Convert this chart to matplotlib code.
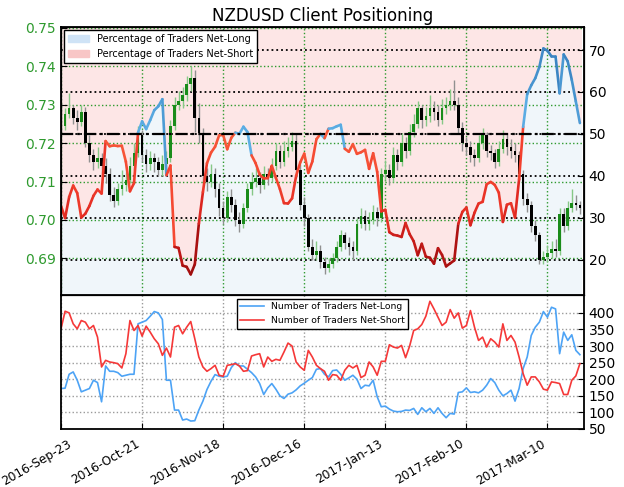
import numpy as np
import pandas as pd
import matplotlib
matplotlib.use("Agg")
import matplotlib.pyplot as plt
import matplotlib.transforms as mtransforms
from matplotlib.collections import LineCollection
from matplotlib.patches import Patch

# --- data ------------------------------------------------------------------
start_date = "2016-09-23"

n_long = [172, 173, 215, 222, 197, 162, 167, 172, 197, 190,
          132, 240, 224, 224, 220, 209, 212, 215, 215, 367,
          372, 377, 390, 404, 400, 380, 197, 197, 107, 107,
          77, 80, 74, 75, 107, 134, 169, 194, 214, 209,
          207, 209, 235, 250, 240, 240, 230, 220, 207, 187,
          154, 174, 187, 170, 150, 142, 155, 159, 168, 180,
          188, 197, 205, 230, 232, 215, 207, 226, 228, 215,
          197, 204, 212, 200, 172, 182, 180, 197, 147, 117,
          119, 110, 104, 102, 103, 107, 106, 112, 94, 114,
          102, 112, 97, 114, 97, 84, 97, 95, 160, 162,
          174, 160, 162, 159, 167, 182, 202, 190, 167, 150,
          157, 167, 134, 172, 232, 267, 332, 357, 372, 404,
          387, 417, 412, 277, 342, 317, 334, 287, 274]

n_short = [352, 405, 400, 367, 352, 377, 372, 352, 362, 327,
           237, 257, 252, 250, 247, 234, 277, 377, 347, 362,
           330, 360, 342, 322, 307, 272, 294, 267, 357, 362,
           337, 357, 374, 322, 267, 237, 224, 232, 242, 212,
           209, 242, 244, 247, 240, 224, 226, 270, 274, 277,
           237, 267, 254, 260, 257, 282, 309, 300, 252, 237,
           227, 287, 267, 242, 232, 224, 197, 214, 212, 197,
           227, 242, 234, 242, 205, 212, 252, 237, 212, 254,
           254, 304, 297, 294, 302, 265, 300, 347, 352, 365,
           390, 435, 412, 387, 362, 372, 410, 384, 400, 354,
           362, 407, 357, 317, 327, 297, 322, 312, 297, 367,
           317, 332, 312, 267, 217, 182, 207, 207, 192, 170,
           167, 192, 190, 187, 154, 154, 197, 210, 247]

first_open = 0.7290
closes = [0.7245, 0.7275, 0.7290, 0.7265, 0.7255, 0.7280, 0.7200, 0.7170, 0.7150, 0.7160,
          0.7140, 0.7120, 0.7065, 0.7050, 0.7080, 0.7090, 0.7105, 0.7140, 0.7175, 0.7220,
          0.7170, 0.7145, 0.7160, 0.7150, 0.7130, 0.7145, 0.7160, 0.7245, 0.7300, 0.7310,
          0.7325, 0.7355, 0.7370, 0.7265, 0.7225, 0.7115, 0.7100, 0.7120, 0.7080, 0.7030,
          0.7005, 0.7060, 0.7040, 0.7000, 0.6990, 0.7030, 0.7080, 0.7100, 0.7110, 0.7090,
          0.7120, 0.7110, 0.7140, 0.7180, 0.7150, 0.7180, 0.7190, 0.7205, 0.7130, 0.7040,
          0.7005, 0.6930, 0.6910, 0.6920, 0.6890, 0.6875, 0.6885, 0.6900, 0.6930, 0.6960,
          0.6940, 0.6930, 0.6920, 0.6990, 0.7010, 0.6990, 0.7000, 0.7020, 0.7005, 0.7120,
          0.7130, 0.7110, 0.7170, 0.7150, 0.7200, 0.7180, 0.7230, 0.7250, 0.7290, 0.7260,
          0.7270, 0.7290, 0.7280, 0.7260, 0.7290, 0.7300, 0.7310, 0.7300, 0.7240, 0.7200,
          0.7190, 0.7170, 0.7160, 0.7200, 0.7220, 0.7180, 0.7175, 0.7150, 0.7185, 0.7210,
          0.7190, 0.7180, 0.7170, 0.7120, 0.7055, 0.7040, 0.6985, 0.6960, 0.6895, 0.6905,
          0.6915, 0.6925, 0.6920, 0.7015, 0.6985, 0.7030, 0.7045, 0.7040, 0.7030]

highs = [0.7305, 0.7290, 0.7330, 0.7300, 0.7285, 0.7300, 0.7295, 0.7220, 0.7185, 0.7190,
         0.7175, 0.7160, 0.7135, 0.7085, 0.7095, 0.7130, 0.7125, 0.7165, 0.7200, 0.7245,
         0.7235, 0.7185, 0.7180, 0.7175, 0.7165, 0.7170, 0.7180, 0.7260, 0.7320, 0.7335,
         0.7345, 0.7375, 0.7400, 0.7390, 0.7305, 0.7240, 0.7135, 0.7145, 0.7135, 0.7095,
         0.7050, 0.7075, 0.7080, 0.7055, 0.7020, 0.7045, 0.7095, 0.7125, 0.7135, 0.7125,
         0.7140, 0.7135, 0.7160, 0.7200, 0.7195, 0.7205, 0.7215, 0.7230, 0.7225, 0.7145,
         0.7060, 0.7015, 0.6950, 0.6945, 0.6935, 0.6905, 0.6900, 0.6915, 0.6945, 0.6975,
         0.6970, 0.6955, 0.6945, 0.7005, 0.7030, 0.7025, 0.7020, 0.7040, 0.7035, 0.7135,
         0.7155, 0.7145, 0.7190, 0.7185, 0.7225, 0.7215, 0.7250, 0.7275, 0.7310, 0.7300,
         0.7295, 0.7325, 0.7310, 0.7300, 0.7315, 0.7320, 0.7340, 0.7365, 0.7320, 0.7255,
         0.7215, 0.7205, 0.7185, 0.7220, 0.7240, 0.7230, 0.7195, 0.7185, 0.7205, 0.7235,
         0.7225, 0.7210, 0.7200, 0.7180, 0.7130, 0.7070, 0.7050, 0.7000, 0.6970, 0.6920,
         0.6935, 0.6945, 0.6950, 0.7030, 0.7030, 0.7050, 0.7080, 0.7065, 0.7050]

lows = [0.7222, 0.7235, 0.7265, 0.7250, 0.7235, 0.7245, 0.7190, 0.7150, 0.7130, 0.7135,
        0.7120, 0.7095, 0.7050, 0.7035, 0.7040, 0.7065, 0.7075, 0.7095, 0.7130, 0.7165,
        0.7150, 0.7125, 0.7130, 0.7125, 0.7115, 0.7115, 0.7130, 0.7150, 0.7235, 0.7285,
        0.7290, 0.7310, 0.7335, 0.7230, 0.7200, 0.7100, 0.7075, 0.7085, 0.7060, 0.7010,
        0.6990, 0.6995, 0.7020, 0.6985, 0.6970, 0.6980, 0.7020, 0.7065, 0.7085, 0.7070,
        0.7080, 0.7090, 0.7100, 0.7130, 0.7135, 0.7140, 0.7165, 0.7180, 0.7110, 0.7025,
        0.6985, 0.6920, 0.6895, 0.6895, 0.6875, 0.6860, 0.6865, 0.6875, 0.6890, 0.6920,
        0.6925, 0.6910, 0.6895, 0.6910, 0.6980, 0.6975, 0.6975, 0.6990, 0.6985, 0.6995,
        0.7105, 0.7090, 0.7100, 0.7130, 0.7140, 0.7160, 0.7170, 0.7215, 0.7240, 0.7240,
        0.7245, 0.7255, 0.7260, 0.7245, 0.7250, 0.7275, 0.7285, 0.7285, 0.7225, 0.7180,
        0.7170, 0.7150, 0.7140, 0.7150, 0.7185, 0.7165, 0.7155, 0.7135, 0.7140, 0.7175,
        0.7170, 0.7160, 0.7150, 0.7105, 0.7040, 0.7020, 0.6970, 0.6945, 0.6885, 0.6885,
        0.6890, 0.6900, 0.6905, 0.6910, 0.6970, 0.6975, 0.7020, 0.7025, 0.7015]

title = "NZDUSD Client Positioning"

# --- derived series --------------------------------------------------------
n_long = np.array(n_long, dtype=float)
n_short = np.array(n_short, dtype=float)
closes = np.array(closes)
opens = np.concatenate([[first_open], closes[:-1]])
highs = np.array(highs)
lows = np.array(lows)
pct_long = 100.0 * n_long / (n_long + n_short)

dates = pd.bdate_range(start_date, periods=len(closes))
x = np.arange(len(closes))

PCT_LIM = (11.6, 75.5)
PRICE_LIM = (0.6805, 0.7502)
GREEN = "#2e9a2e"


def line_color(v):
    """Colour for the sentiment line: reds below 50, blues above."""
    if v < 50:
        stops = [15, 22, 30, 40, 50]
        cols = ["#980c0c", "#b81414", "#e22a22", "#f4432f", "#f85a3a"]
    else:
        stops = [50, 60, 70]
        cols = ["#5eb0e6", "#4a98d2", "#3a82c0"]
    rgb = np.array([matplotlib.colors.to_rgb(c) for c in cols])
    return tuple(np.interp(v, stops, rgb[:, k]) for k in range(3))


fig = plt.figure(figsize=(6.24, 4.87), dpi=100)
ax_pct = fig.add_axes([0.0978, 0.3943, 0.838, 0.5503])
ax_px = ax_pct.twinx()
ax_ln = ax_pct.twinx()
ax_cnt = fig.add_axes([0.0978, 0.1191, 0.838, 0.2752], sharex=ax_pct)

ax_pct.set_zorder(1)
ax_px.set_zorder(2)
ax_ln.set_zorder(3)

# background: net-long share below the line, net-short share above it
ax_pct.bar(x, pct_long - PCT_LIM[0], bottom=PCT_LIM[0], width=1.0,
           color="#f0f6fa", linewidth=0, zorder=0.5)
ax_pct.bar(x, PCT_LIM[1] - pct_long, bottom=pct_long, width=1.0,
           color="#fde6e6", linewidth=0, zorder=0.5)
ax_pct.set_ylim(*PCT_LIM)
ax_pct.set_yticks([20, 30, 40, 50, 60, 70])
ax_pct.yaxis.tick_right()
ax_pct.yaxis.grid(True, color="black", linestyle=":", linewidth=1.3)
ax_pct.xaxis.grid(True, color=GREEN, linestyle=":", linewidth=1.0)
ax_pct.tick_params(axis="y", labelsize=10, direction="in", length=4)
ax_pct.tick_params(axis="x", labelbottom=False, direction="in", length=0)

# candles
up = closes >= opens
body_col = np.where(up, "#1a8c1a", "black")
wick_col = np.where(up, "#86c886", "#909090")
ax_px.vlines(x, lows, highs, colors=wick_col, linewidth=1.0, zorder=2)
ax_px.bar(x, np.maximum(np.abs(closes - opens), 0.0002),
          bottom=np.minimum(opens, closes), width=0.65,
          color=body_col, linewidth=0, zorder=3)
ax_px.set_ylim(*PRICE_LIM)
ax_px.set_yticks([0.69, 0.70, 0.71, 0.72, 0.73, 0.74, 0.75])
ax_px.yaxis.tick_left()
ax_px.yaxis.grid(True, color=GREEN, linestyle=":", linewidth=1.0)
ax_px.tick_params(axis="y", labelsize=10, labelcolor=GREEN, direction="in", length=4)
ax_px.set_axisbelow(True)

# sentiment line
segs = np.stack([np.column_stack([x[:-1], pct_long[:-1]]),
                 np.column_stack([x[1:], pct_long[1:]])], axis=1)
lc = LineCollection(segs, colors=[line_color(v) for v in pct_long[:-1]],
                    linewidths=1.9, capstyle="round", joinstyle="round")
ax_ln.add_collection(lc)
ax_ln.axhline(50, color="black", linewidth=1.6, linestyle=(0, (5.5, 1.8, 1.2, 1.8)))
ax_ln.set_ylim(*PCT_LIM)
ax_ln.yaxis.set_visible(False)
ax_ln.legend(handles=[Patch(facecolor="#cfe3f6", edgecolor="#cfe3f6",
                            label="Percentage of Traders Net-Long"),
                      Patch(facecolor="#f8c6c6", edgecolor="#f8c6c6",
                            label="Percentage of Traders Net-Short")],
             loc="upper left", fontsize=7, fancybox=False, edgecolor="black",
             framealpha=1.0, borderaxespad=0.3, handlelength=2.2)

ax_pct.set_xlim(0, len(x))
ax_pct.set_title(title, fontsize=12, pad=4)

for a in (ax_pct, ax_cnt):
    for s in a.spines.values():
        s.set_linewidth(1.3)

# counts panel
ax_cnt.plot(x, n_long, color="#4da3f5", linewidth=1.2, label="Number of Traders Net-Long")
ax_cnt.plot(x, n_short, color="#f53838", linewidth=1.2, label="Number of Traders Net-Short")
ax_cnt.set_ylim(50, 454)
ax_cnt.set_yticks(np.arange(50, 401, 50))
ax_cnt.yaxis.tick_right()
ax_cnt.grid(True, color="#9a9a9a", linestyle=":", linewidth=1.0)
ax_cnt.tick_params(axis="y", labelsize=10, direction="in", length=4)
ax_cnt.tick_params(axis="x", direction="in", length=4, pad=6)
ax_cnt.set_xticks(x[::20])
ax_cnt.set_xticklabels(dates[::20].strftime("%Y-%b-%d"), rotation=30, ha="right", fontsize=8.7)
ax_cnt.legend(loc="upper center", fontsize=6.7, fancybox=False, edgecolor="black",
              framealpha=1.0, borderaxespad=0.4, handlelength=2.5)

# the first date label sits a little to the right so it stays inside the figure
first_lbl = ax_cnt.get_xticklabels()[0]
first_lbl.set_transform(first_lbl.get_transform() +
                        mtransforms.ScaledTranslation(0.13, 0, fig.dpi_scale_trans))

fig.savefig("out.png", dpi=100)
